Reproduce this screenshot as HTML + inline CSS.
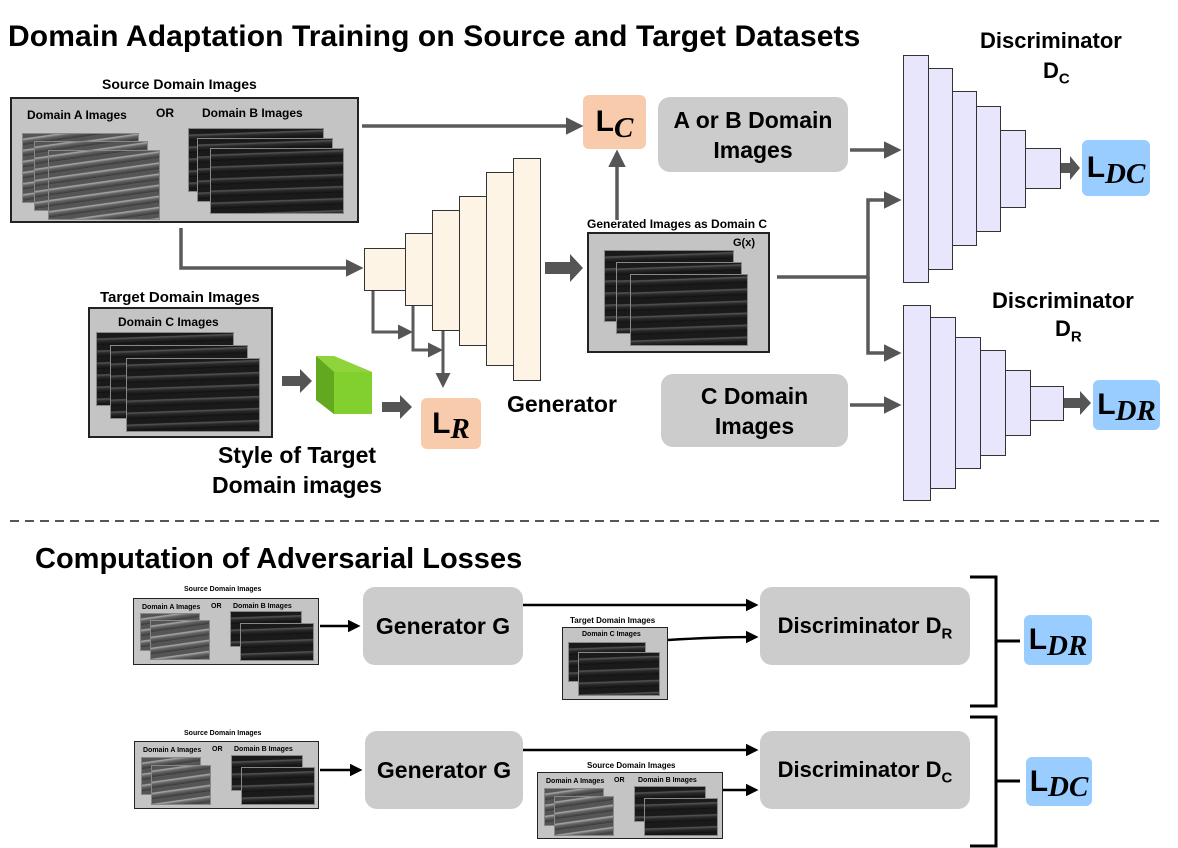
<!DOCTYPE html>
<html><head><meta charset="utf-8"><style>
body{margin:0;width:1178px;height:848px;background:#fff;position:relative;overflow:hidden;font-family:"Liberation Sans",Arial,sans-serif;}
.a{position:absolute;}
.t{position:absolute;font-weight:bold;white-space:nowrap;color:#000;}
.box{position:absolute;background:#c4c4c4;border:2px solid #222;box-sizing:border-box;}
.rb{position:absolute;background:#cccccc;border-radius:12px;display:flex;align-items:center;justify-content:center;text-align:center;font-weight:bold;font-size:23px;line-height:30px;white-space:nowrap;}
.us{position:absolute;background:repeating-linear-gradient(178deg,#1a1a1a 0 5px,#555 6px,#2a2a2a 8px,#111 12px);border:1px solid #888;}
.ul{position:absolute;background:repeating-linear-gradient(172deg,#555 0 4px,#aaa 5px,#666 7px,#3a3a3a 11px);border:1px solid #888;}
.L{position:absolute;border-radius:6px;display:flex;align-items:center;justify-content:center;font-weight:bold;}
.L b{font-family:"Liberation Sans",sans-serif;font-size:30px;}
.L i{font-family:"Liberation Serif",serif;font-size:29px;font-weight:bold;position:relative;top:6px;}
.g{position:absolute;background:#fdf4e5;border:1.5px solid #333;box-sizing:border-box;}
.d{position:absolute;background:#e8e6fc;border:1.5px solid #333;box-sizing:border-box;}
sub{font-size:15px;line-height:0;}
</style></head><body>
<div class="t" style="left:8px;top:20px;font-size:30px;letter-spacing:0.1px;">Domain Adaptation Training on Source and Target Datasets</div>

<div class="t" style="left:102px;top:76px;font-size:14px;">Source Domain Images</div>
<div class="box" style="left:10px;top:97px;width:349px;height:126px;"></div>
<div class="t" style="left:27px;top:108px;font-size:12px;">Domain A Images</div>
<div class="t" style="left:156px;top:106px;font-size:12px;">OR</div>
<div class="t" style="left:202px;top:106px;font-size:12px;">Domain B Images</div>
<div class="ul" style="left:22px;top:133px;width:115px;height:68px;"></div>
<div class="ul" style="left:34px;top:141px;width:112px;height:68px;"></div>
<div class="ul" style="left:48px;top:150px;width:110px;height:68px;"></div>
<div class="us" style="left:188px;top:128px;width:134px;height:62px;"></div>
<div class="us" style="left:197px;top:138px;width:134px;height:62px;"></div>
<div class="us" style="left:210px;top:148px;width:132px;height:64px;"></div>

<div class="t" style="left:100px;top:289px;font-size:15px;">Target Domain Images</div>
<div class="box" style="left:88px;top:307px;width:185px;height:131px;"></div>
<div class="t" style="left:118px;top:315px;font-size:12px;">Domain C Images</div>
<div class="us" style="left:96px;top:332px;width:136px;height:72px;"></div>
<div class="us" style="left:110px;top:345px;width:136px;height:72px;"></div>
<div class="us" style="left:126px;top:358px;width:132px;height:72px;"></div>

<svg class="a" style="left:310px;top:350px" width="70" height="70">
<polygon points="6,6 24,6 62,22 62,64 24,64 6,50" fill="#7bc428"/>
<polygon points="6,6 24,6 62,22 24,22" fill="#8ed43a"/>
<polygon points="6,6 24,22 24,64 6,50" fill="#63a81e"/>
<rect x="24" y="22" width="38" height="42" fill="#82d02e"/>
</svg>
<div class="t" style="left:212px;top:440px;font-size:23px;text-align:center;line-height:30px;">Style of Target<br>Domain images</div>

<div class="g" style="left:364px;top:248px;width:42px;height:43px;"></div>
<div class="g" style="left:405px;top:233px;width:28px;height:73px;"></div>
<div class="g" style="left:432px;top:210px;width:28px;height:121px;"></div>
<div class="g" style="left:459px;top:196px;width:28px;height:150px;"></div>
<div class="g" style="left:486px;top:172px;width:28px;height:194px;"></div>
<div class="g" style="left:513px;top:158px;width:28px;height:223px;"></div>
<div class="t" style="left:507px;top:391px;font-size:23px;">Generator</div>

<div class="L" style="left:583px;top:95px;width:63px;height:54px;background:#f8cbad;"><b>L</b><i>C</i></div>
<div class="L" style="left:421px;top:398px;width:60px;height:51px;background:#f8cbad;"><b>L</b><i>R</i></div>
<div class="L" style="left:1082px;top:140px;width:68px;height:56px;background:#99ccff;"><b>L</b><i>DC</i></div>
<div class="L" style="left:1093px;top:380px;width:67px;height:50px;background:#99ccff;"><b>L</b><i>DR</i></div>

<div class="rb" style="left:658px;top:97px;width:190px;height:75px;">A or B Domain<br>Images</div>
<div class="rb" style="left:661px;top:374px;width:187px;height:73px;">C Domain<br>Images</div>

<div class="t" style="left:587px;top:217px;font-size:12px;">Generated Images as Domain C</div>
<div class="box" style="left:587px;top:232px;width:183px;height:121px;"></div>
<div class="t" style="left:733px;top:237px;font-size:11px;">G(x)</div>
<div class="us" style="left:604px;top:250px;width:128px;height:70px;"></div>
<div class="us" style="left:616px;top:262px;width:124px;height:70px;"></div>
<div class="us" style="left:630px;top:274px;width:116px;height:70px;"></div>

<div class="d" style="left:903px;top:55px;width:26px;height:228px;"></div>
<div class="d" style="left:928px;top:68px;width:25px;height:202px;"></div>
<div class="d" style="left:952px;top:91px;width:25px;height:155px;"></div>
<div class="d" style="left:976px;top:106px;width:25px;height:126px;"></div>
<div class="d" style="left:1000px;top:130px;width:26px;height:78px;"></div>
<div class="d" style="left:1025px;top:148px;width:36px;height:41px;"></div>
<div class="t" style="left:980px;top:28px;font-size:22px;">Discriminator</div>
<div class="t" style="left:1043px;top:58px;font-size:22px;">D<sub>C</sub></div>

<div class="d" style="left:903px;top:305px;width:28px;height:196px;"></div>
<div class="d" style="left:930px;top:317px;width:26px;height:172px;"></div>
<div class="d" style="left:955px;top:337px;width:26px;height:132px;"></div>
<div class="d" style="left:980px;top:350px;width:26px;height:106px;"></div>
<div class="d" style="left:1005px;top:370px;width:26px;height:66px;"></div>
<div class="d" style="left:1030px;top:386px;width:34px;height:35px;"></div>
<div class="t" style="left:992px;top:288px;font-size:22px;">Discriminator</div>
<div class="t" style="left:1055px;top:316px;font-size:22px;">D<sub>R</sub></div>

<svg class="a" style="left:0;top:0" width="1178" height="848">
<defs>
<marker id="ag" markerWidth="5" markerHeight="5" refX="4" refY="2.5" orient="auto" markerUnits="strokeWidth"><polygon points="0,0 5,2.5 0,5" fill="#555"/></marker>
<marker id="ab" markerWidth="5" markerHeight="5" refX="4" refY="2.5" orient="auto" markerUnits="strokeWidth"><polygon points="0,0 5,2.5 0,5" fill="#000"/></marker>
</defs>
<g stroke="#5a5a5a" stroke-width="3.5" fill="none" marker-end="url(#ag)">
<line x1="362" y1="126" x2="580" y2="126"/>
<line x1="617" y1="220" x2="617" y2="153"/>
<polyline points="181,228 181,268 360,268"/>
<line x1="850" y1="150" x2="898" y2="150"/>
<line x1="850" y1="405" x2="898" y2="405"/>
<polyline points="777,277 868,277 868,200 898,200"/>
<polyline points="868,277 868,353 898,353"/>
<polyline points="373,291 373,332 410,332" stroke-width="3"/>
<polyline points="413,306 413,350 440,350" stroke-width="3"/>
<line x1="443" y1="331" x2="443" y2="385" stroke-width="3"/>
</g>
<g fill="#555">
<polygon points="545,262 570,262 570,254 583,268 570,282 570,274 545,274"/>
<polygon points="282,376 300,376 300,369 312,381 300,393 300,386 282,386"/>
<polygon points="382,402 400,402 400,395 412,407 400,419 400,412 382,412"/>
<polygon points="1061,163 1070,163 1070,156 1080,168 1070,180 1070,173 1061,173"/>
<polygon points="1064,398 1080,398 1080,391 1091,403 1080,415 1080,408 1064,408"/>
</g>
<line x1="10" y1="521" x2="1160" y2="521" stroke="#555" stroke-width="2" stroke-dasharray="9,6"/>
<g stroke="#000" stroke-width="2.5" fill="none" marker-end="url(#ab)">
<line x1="320" y1="626" x2="358" y2="626"/>
<line x1="523" y1="605" x2="756" y2="605"/>
<path d="M668,640 C700,638 730,637 756,637"/>
<line x1="320" y1="770" x2="360" y2="770"/>
<line x1="523" y1="750" x2="756" y2="750"/>
<line x1="723" y1="790" x2="756" y2="790"/>
</g>
<g stroke="#000" stroke-width="3" fill="none">
<polyline points="970,577 996,577 996,706 970,706"/>
<line x1="996" y1="641" x2="1020" y2="641"/>
<polyline points="970,717 996,717 996,846 970,846"/>
<line x1="996" y1="781" x2="1020" y2="781"/>
</g>
</svg>

<div class="t" style="left:35px;top:543px;font-size:29px;">Computation of Adversarial Losses</div>

<div class="t" style="left:184px;top:586px;font-size:7px;">Source Domain Images</div>
<div class="box" style="left:133px;top:598px;width:186px;height:67px;border-width:1.5px;"></div>
<div class="t" style="left:142px;top:604px;font-size:7px;">Domain A Images</div>
<div class="t" style="left:211px;top:603px;font-size:7px;">OR</div>
<div class="t" style="left:233px;top:603px;font-size:7px;">Domain B Images</div>
<div class="ul" style="left:140px;top:613px;width:58px;height:36px;"></div>
<div class="ul" style="left:150px;top:620px;width:58px;height:38px;"></div>
<div class="us" style="left:230px;top:611px;width:70px;height:34px;"></div>
<div class="us" style="left:240px;top:623px;width:72px;height:36px;"></div>
<div class="rb" style="left:363px;top:587px;width:160px;height:78px;">Generator G</div>
<div class="t" style="left:570px;top:616px;font-size:8px;">Target Domain Images</div>
<div class="box" style="left:562px;top:627px;width:106px;height:73px;border-width:1.5px;"></div>
<div class="t" style="left:582px;top:631px;font-size:7px;">Domain C Images</div>
<div class="us" style="left:568px;top:642px;width:76px;height:38px;"></div>
<div class="us" style="left:578px;top:652px;width:80px;height:42px;"></div>
<div class="rb" style="left:760px;top:587px;width:210px;height:78px;font-size:22px;"><span>Discriminator D<sub>R</sub></span></div>
<div class="L" style="left:1024px;top:615px;width:68px;height:50px;background:#99ccff;"><b>L</b><i>DR</i></div>

<div class="t" style="left:184px;top:730px;font-size:7px;">Source Domain Images</div>
<div class="box" style="left:134px;top:741px;width:185px;height:68px;border-width:1.5px;"></div>
<div class="t" style="left:143px;top:747px;font-size:7px;">Domain A Images</div>
<div class="t" style="left:212px;top:746px;font-size:7px;">OR</div>
<div class="t" style="left:234px;top:746px;font-size:7px;">Domain B Images</div>
<div class="ul" style="left:141px;top:757px;width:58px;height:36px;"></div>
<div class="ul" style="left:151px;top:765px;width:58px;height:38px;"></div>
<div class="us" style="left:231px;top:755px;width:70px;height:34px;"></div>
<div class="us" style="left:241px;top:767px;width:72px;height:36px;"></div>
<div class="rb" style="left:365px;top:731px;width:158px;height:78px;">Generator G</div>
<div class="t" style="left:587px;top:761px;font-size:8px;">Source Domain Images</div>
<div class="box" style="left:537px;top:772px;width:186px;height:67px;border-width:1.5px;"></div>
<div class="t" style="left:546px;top:778px;font-size:7px;">Domain A Images</div>
<div class="t" style="left:614px;top:777px;font-size:7px;">OR</div>
<div class="t" style="left:638px;top:777px;font-size:7px;">Domain B Images</div>
<div class="ul" style="left:544px;top:788px;width:58px;height:36px;"></div>
<div class="ul" style="left:554px;top:796px;width:58px;height:38px;"></div>
<div class="us" style="left:634px;top:786px;width:70px;height:34px;"></div>
<div class="us" style="left:644px;top:798px;width:72px;height:36px;"></div>
<div class="rb" style="left:760px;top:731px;width:210px;height:78px;font-size:22px;"><span>Discriminator D<sub>C</sub></span></div>
<div class="L" style="left:1026px;top:757px;width:66px;height:49px;background:#99ccff;"><b>L</b><i>DC</i></div>
</body></html>
